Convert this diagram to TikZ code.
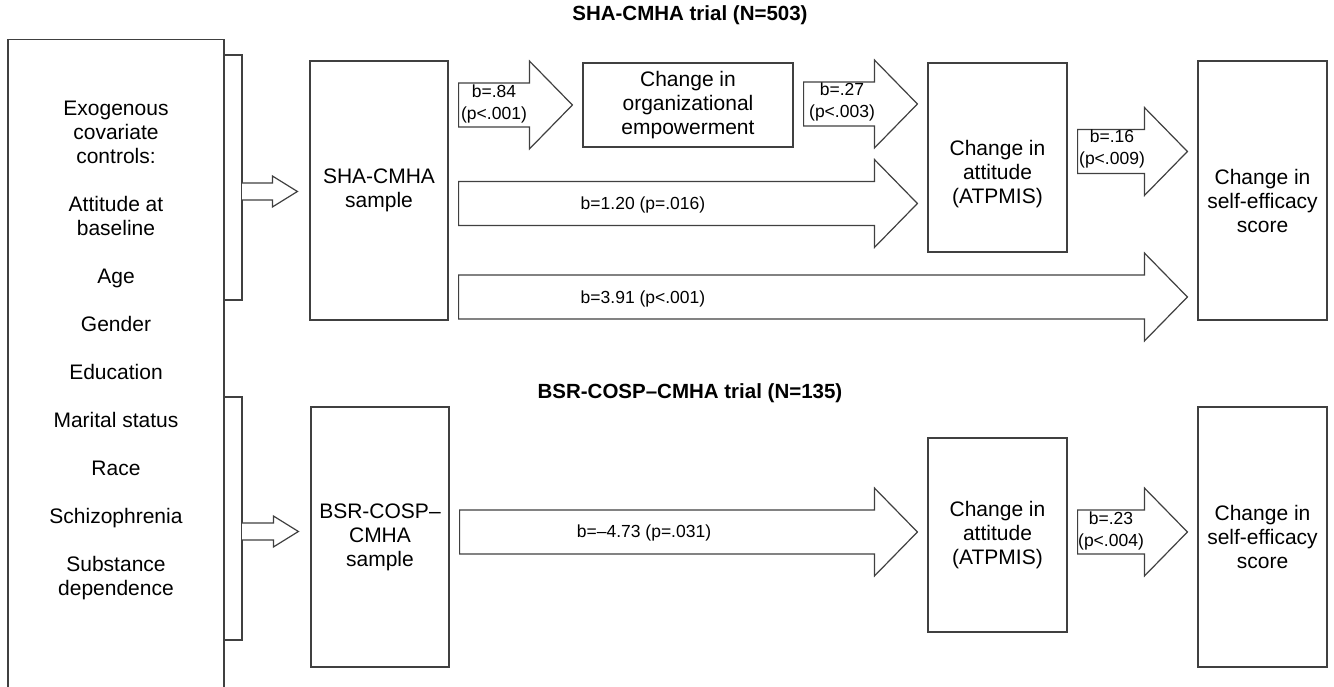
\documentclass[tikz,border=0pt]{standalone}
\usepackage{fontspec}
\setmainfont{Liberation Sans}
\usetikzlibrary{
  calc, % for the let operations in the block arrows
}
\newcommand{\boxfont}{\fontsize{21}{24}\selectfont}
\newcommand{\coeffont}{\fontsize{17.5}{22}\selectfont}
\newcommand{\trialfont}{\bfseries\fontsize{20.5}{24}\selectfont}
\tikzset{
  line/.style={ % style for all the outlines
    draw=black!75, % dark gray like the original print
    line width=1.2pt,
  },
  box/.style={ % style for the variable boxes
    line, % inherit the line style
    inner sep=0pt, % sizes are set with minimum width/height
    align=center,
    font=\boxfont,
  },
  blk/.style={ % style for the hollow block arrows
    line, % inherit the line style
    fill=white, % so that labels stay readable
    line join=miter,
  },
  coef/.style={ % style for the path coefficients
    align=center,
    inner sep=0pt,
    font=\coeffont,
  },
  trial/.style={ % style for the trial headings
    font=\trialfont,
  },
}
% block arrow between two nodes, at a given height
\newcommand{\fatarrow}[3]{%
  \draw[blk] let \p1=(#1.east), \p2=(#2.west) in
    (\x1+10pt,#3+22pt) -- (\x2-53pt,#3+22pt) -- (\x2-53pt,#3+44pt) -- (\x2-10pt,#3)
    -- (\x2-53pt,#3-44pt) -- (\x2-53pt,#3-22pt) -- (\x1+10pt,#3-22pt) -- cycle;}
% small arrow from a bracket into a sample box
\newcommand{\thinarrow}[3]{%
  \draw[blk] let \p1=(#1), \p2=(#2.west) in
    (\x1,#3+8.5pt) -- (\x2-37pt,#3+8.5pt) -- (\x2-37pt,#3+15.5pt) -- (\x2-12pt,#3)
    -- (\x2-37pt,#3-15.5pt) -- (\x2-37pt,#3-8.5pt) -- (\x1,#3-8.5pt);}

\begin{document}
\begin{tikzpicture}[x=1pt,y=1pt]

	\useasboundingbox (0,0) rectangle (1334,687);
	\clip (0,0) rectangle (1334,687);

	\node[trial] (t1) at (690,672) {SHA-CMHA trial (N=503)};
	\node[trial] (t2) at (690,294) {BSR-COSP–CMHA trial (N=135)};

	% covariate box, open at the bottom of the page
	\node[box,minimum width=216pt,minimum height=700pt,anchor=north] (ctrl) at (116,648) {};
	\node[font=\boxfont,align=center] (ctrltext) at (116,337) {Exogenous\\covariate\\controls:\\[24pt]Attitude at\\baseline\\[24pt]Age\\[24pt]Gender\\[24pt]Education\\[24pt]Marital status\\[24pt]Race\\[24pt]Schizophrenia\\[24pt]Substance\\dependence};

	\coordinate (brk1) at (242,495.5);
	\coordinate (brk2) at (242,155.5);
	\draw[line] (224,632) -- (242,632) -- (242,387) -- (224,387);
	\draw[line] (224,290) -- (242,290) -- (242,47) -- (224,47);

	% SHA-CMHA trial
	\node[box,minimum width=138pt,minimum height=259pt] (sha) at (379,496.5) {SHA-CMHA\\sample};
	\node[box,minimum width=210pt,minimum height=84pt] (org) at (688,582) {Change in\\organizational\\empowerment};
	\node[box,minimum width=139pt,minimum height=189pt] (att1) at (997.5,529.5) {\mbox{}\\[24pt]Change in\\attitude\\(ATPMIS)};
	\node[box,minimum width=129pt,minimum height=259pt] (eff1) at (1262.5,496.5) {\mbox{}\\[12pt]Change in\\self-efficacy\\score};

	% BSR-COSP-CMHA trial
	\node[box,minimum width=138pt,minimum height=260pt] (bsr) at (380,150) {BSR-COSP–\\CMHA\\sample};
	\node[box,minimum width=139pt,minimum height=194pt] (att2) at (997.5,152) {Change in\\attitude\\(ATPMIS)};
	\node[box,minimum width=129pt,minimum height=260pt] (eff2) at (1262.5,150) {Change in\\self-efficacy\\score};

	\thinarrow{brk1}{sha}{495.5pt}
	\thinarrow{brk2}{bsr}{155.5pt}

	\fatarrow{sha}{org}{582pt}
	\fatarrow{org}{att1}{583pt}
	\fatarrow{sha}{att1}{483.5pt}
	\fatarrow{sha}{eff1}{390pt}
	\fatarrow{att1}{eff1}{535.5pt}

	\fatarrow{bsr}{att2}{155pt}
	\fatarrow{att2}{eff2}{155pt}

	\node[coef] (c1) at (494,583) {b=.84\\(p<.001)};
	\node[coef] (c2) at (842,585.5) {b=.27\\(p<.003)};
	\node[coef] (c3) at (643,482) {b=1.20 (p=.016)};
	\node[coef] (c4) at (643,388) {b=3.91 (p<.001)};
	\node[coef] (c5) at (1112,538) {b=.16\\(p<.009)};
	\node[coef] (c6) at (644,154) {b=–4.73 (p=.031)};
	\node[coef] (c7) at (1111,156) {b=.23\\(p<.004)};

\end{tikzpicture}
\end{document}
